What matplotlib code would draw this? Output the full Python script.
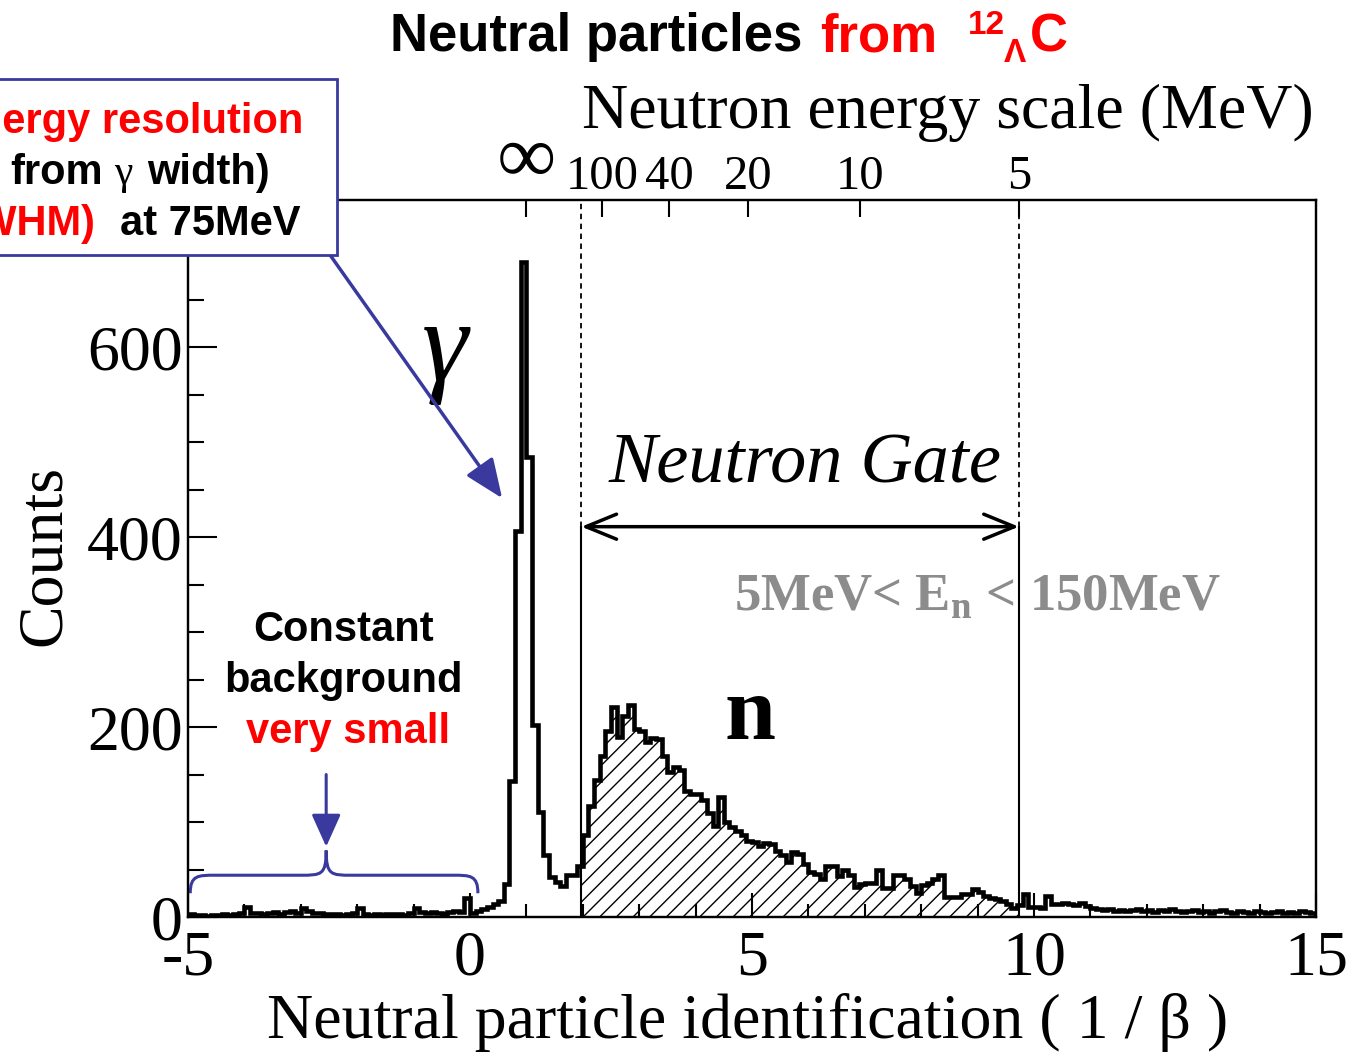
import numpy as np
import matplotlib
matplotlib.use("Agg")
import matplotlib.pyplot as plt
from matplotlib.patches import Rectangle, PathPatch
from matplotlib.path import Path
from matplotlib.ticker import MultipleLocator

# 1/beta spectrum, 0.1 wide bins from -5 to 15
background = [3, 2, 2, 1, 2, 2, 3, 2, 3, 4,
              11, 4, 4, 3, 4, 5, 3, 5, 6, 4,
              10, 6, 4, 4, 3, 3, 3, 2, 3, 4,
              10, 3, 2, 3, 2, 3, 3, 3, 2, 4,
              9, 5, 4, 5, 4, 3, 5, 6, 5, 20]          # -5.0 .. 0.0
gamma_peak = [4, 6, 8, 11, 14, 17, 35, 143, 406, 690,
              484, 202, 111, 65, 42, 37, 33, 44, 44, 54]  # 0.0 .. 2.0
neutron = [86, 117, 144, 170, 196, 221, 190, 212, 223, 198,
           196, 184, 188, 187, 170, 153, 158, 155, 133, 130,
           129, 123, 110, 96, 126, 100, 95, 91, 86, 80,
           79, 75, 78, 77, 70, 65, 58, 68, 66, 56,
           47, 45, 40, 54, 54, 43, 49, 44, 32, 35,
           36, 36, 49, 31, 31, 44, 44, 40, 33, 25,
           34, 36, 40, 44, 21, 21, 21, 24, 24, 29,
           26, 22, 20, 19, 17, 14, 10, 13, 24, 11]    # 2.0 .. 10.0
tail = [11, 10, 22, 14, 14, 15, 14, 13, 15, 12,
        9, 8, 7, 8, 6, 7, 6, 7, 8, 6,
        7, 5, 7, 6, 8, 6, 5, 6, 7, 5,
        6, 4, 6, 7, 5, 4, 6, 5, 4, 6,
        5, 4, 5, 6, 4, 5, 4, 6, 5, 4]                 # 10.0 .. 15.0

counts = np.array(background + gamma_peak + neutron + tail)
edges = np.linspace(-5, 15, len(counts) + 1)

x_ticks = [-5, 0, 5, 10, 15]
y_ticks = [0, 200, 400, 600]
energy_ticks = [np.inf, 100, 40, 20, 10, 5]
energy_labels = ['∞', '100', '40', '20', '10', '5']
gate_energy = (150, 5)   # MeV

M_N = 939.57  # neutron mass, MeV


def inv_beta(E):
    if np.isinf(E):
        return 1.0
    g = 1 + E / M_N
    return 1 / np.sqrt(1 - 1 / g**2)


SERIF = 'Liberation Serif'
SANS = 'Liberation Sans'
BLUE = '#3a3a9e'
RED = '#ff0000'
plt.rcParams['hatch.linewidth'] = 1.0
plt.rcParams['mathtext.fontset'] = 'custom'
plt.rcParams['mathtext.rm'] = SERIF
plt.rcParams['mathtext.bf'] = SERIF + ':bold'

W, H = 1350, 1054


def fpos(x, y):
    return x / W, 1 - y / H


fig = plt.figure(figsize=(W / 100, H / 100), dpi=100)
ax = fig.add_axes([188 / W, 1 - 917 / H, 1128 / W, 717 / H])
ax.set_xlim(-5, 15)
ax.set_ylim(0, 755)

ax.stairs(counts, edges, color='black', linewidth=3.3, zorder=3)

# hatched neutron gate
lo, hi = inv_beta(gate_energy[0]), inv_beta(gate_energy[1])
inside = (edges[1:] > lo) & (edges[:-1] < hi)
x_fill = np.append(np.clip(edges[:-1][inside], lo, hi), hi)
y_fill = np.append(counts[inside], counts[inside][-1])
ax.fill_between(x_fill, y_fill, step='post', facecolor='none',
                edgecolor='black', hatch='//', linewidth=0, zorder=2)

arrow_y = 411
for xg in (lo, hi):
    ax.plot([xg, xg], [0, arrow_y], color='black', lw=1.5, zorder=4)
    ax.plot([xg, xg], [arrow_y, 755], color='black', lw=1.3,
            ls=(0, (3, 2.5)), zorder=4)
ax.annotate('', xy=(lo, arrow_y), xytext=(hi, arrow_y),
            arrowprops=dict(arrowstyle='<->,head_length=1.1,head_width=0.45',
                            lw=2.5, color='black', mutation_scale=20,
                            shrinkA=0, shrinkB=0))

# axes styling
for s in ax.spines.values():
    s.set_linewidth(1.6)
ax.set_xticks(x_ticks)
ax.set_xticklabels([str(t) for t in x_ticks])
ax.set_yticks(y_ticks)
ax.set_yticklabels([str(t) for t in y_ticks])
ax.xaxis.set_minor_locator(MultipleLocator(1))
ax.yaxis.set_minor_locator(MultipleLocator(50))
ax.tick_params(which='both', direction='in', top=False, right=False, width=1.5)
ax.tick_params(axis='x', which='major', length=17, pad=10)
ax.tick_params(axis='x', which='minor', length=9.5)
ax.tick_params(axis='y', which='major', length=21, pad=4)
ax.tick_params(axis='y', which='minor', length=11.5)
for lab in ax.get_xticklabels() + ax.get_yticklabels():
    lab.set_fontfamily(SERIF)
    lab.set_fontsize(46)

# neutron energy scale on top
ax2 = ax.twiny()
ax2.set_xlim(ax.get_xlim())
ax2.set_xticks([inv_beta(e) for e in energy_ticks])
ax2.set_xticklabels(energy_labels)
ax2.xaxis.set_minor_locator(plt.NullLocator())
ax2.tick_params(axis='x', direction='in', length=12, width=1.5, pad=1)
for lab in ax2.get_xticklabels():
    lab.set_fontfamily(SERIF)
    lab.set_fontsize(35)
inf_label = ax2.get_xticklabels()[0]
inf_label.set_fontsize(58)
inf_label.set_fontweight('bold')
for s in ax2.spines.values():
    s.set_linewidth(1.6)

# labels
fig.text(*fpos(748, 1022), 'Neutral particle identification ( 1 / β )',
         fontsize=46, family=SERIF, ha='center', va='center')
fig.text(*fpos(45, 555), 'Counts', fontsize=46, family=SERIF,
         rotation=90, ha='center', va='center')
fig.text(*fpos(948, 113), 'Neutron energy scale (MeV)', fontsize=46,
         family=SERIF, ha='center', va='center')

# title
tkw = dict(fontsize=38, family=SANS, weight='bold', va='baseline')
fig.text(*fpos(390, 51), 'Neutral particles', color='black', **tkw)
fig.text(*fpos(820, 51), 'from', color=RED, **tkw)
fig.text(*fpos(968, 34), '12', color=RED, fontsize=24, family=SANS,
         weight='bold', va='baseline')
fig.text(*fpos(1004, 62), 'Λ', color=RED, fontsize=24, family=SANS,
         weight='bold', va='baseline')
fig.text(*fpos(1030, 51), 'C', color=RED, **tkw)

# annotations inside the plot
ax.text(-0.44, 565, 'γ', fontsize=84, family=SERIF, style='italic',
        ha='center', va='baseline')
ax.text(4.96, 187, 'n', fontsize=66, family=SERIF, weight='bold',
        ha='center', va='baseline')
ax.text(5.94, 458, 'Neutron Gate', fontsize=52, family=SERIF,
        style='italic', ha='center', va='baseline')
ax.text(9.0, 323, r'5MeV< E$_\mathbf{n}$ < 150MeV', fontsize=38,
        family=SERIF, weight='bold', color='#8c8c8c', ha='center',
        va='baseline')

bkw = dict(fontsize=30, family=SANS, weight='bold', ha='center',
           va='center')
ax.text(-2.25, 302, 'Constant', color='black', **bkw)
ax.text(-2.25, 249, 'background', color='black', **bkw)
ax.text(-2.16, 195, 'very small', color=RED, **bkw)


def brace(x0, x1, xm, y_end, y_mid, y_tip, r):
    verts = [(x0, y_end), (x0, y_mid), (x0 + 0.3 * r, y_mid), (x0 + r, y_mid),
             (xm - r, y_mid),
             (xm - 0.2 * r, y_mid), (xm, y_mid), (xm, y_tip),
             (xm, y_mid), (xm + 0.2 * r, y_mid), (xm + r, y_mid),
             (x1 - r, y_mid),
             (x1 - 0.3 * r, y_mid), (x1, y_mid), (x1, y_end)]
    codes = [Path.MOVETO, Path.CURVE4, Path.CURVE4, Path.CURVE4,
             Path.LINETO,
             Path.CURVE4, Path.CURVE4, Path.CURVE4,
             Path.CURVE4, Path.CURVE4, Path.CURVE4,
             Path.LINETO,
             Path.CURVE4, Path.CURVE4, Path.CURVE4]
    return PathPatch(Path(verts, codes), facecolor='none', edgecolor=BLUE,
                     lw=2.2, zorder=5)


ax.add_patch(brace(-4.96, 0.14, -2.55, 25, 44, 70, 0.45))
ax.annotate('', xy=(-2.55, 74), xytext=(-2.55, 150),
            arrowprops=dict(arrowstyle='-|>,head_length=1.0,head_width=0.45',
                            lw=2.2, color=BLUE, mutation_scale=20,
                            shrinkA=0, shrinkB=0))

# resolution box with arrow to the gamma peak
ax.annotate('', xy=(0.57, 441), xytext=(-2.48, 697),
            arrowprops=dict(arrowstyle='-|>,head_length=1.2,head_width=0.5',
                            lw=2.5, color=BLUE, mutation_scale=20,
                            shrinkA=0, shrinkB=0), annotation_clip=False)
box = Rectangle(fpos(-10, 255), 347 / W, 176 / H, transform=fig.transFigure,
                facecolor='white', edgecolor=BLUE, lw=2, zorder=10)
fig.add_artist(box)
rkw = dict(fontsize=30, family=SANS, weight='bold', va='baseline', zorder=11)
fig.text(*fpos(303, 133), 'Energy resolution', color=RED, ha='right', **rkw)
fig.text(*fpos(10, 184), 'from', color='black', ha='left', **rkw)
fig.text(*fpos(123, 184), 'γ', color='black', fontsize=30, family=SERIF,
         ha='center', va='baseline', zorder=11)
fig.text(*fpos(270, 184), 'width)', color='black', ha='right', **rkw)
fig.text(*fpos(96, 235), '(FWHM)', color=RED, ha='right', **rkw)
fig.text(*fpos(120, 235), 'at 75MeV', color='black', ha='left', **rkw)

fig.savefig('out.png', dpi=100)
